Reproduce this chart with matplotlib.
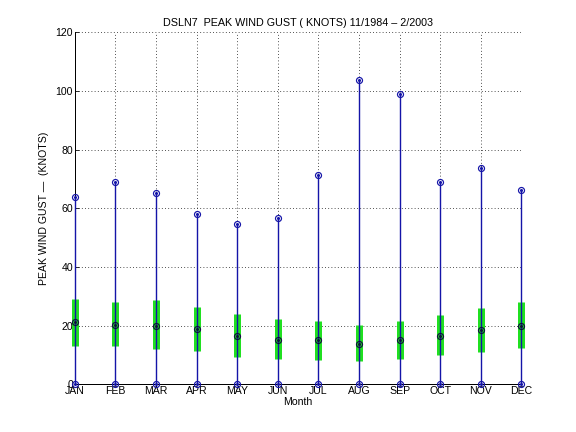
import matplotlib
matplotlib.use("Agg")
import matplotlib.pyplot as plt
import numpy as np

months = ["JAN", "FEB", "MAR", "APR", "MAY", "JUN", "JUL", "AUG", "SEP", "OCT", "NOV", "DEC"]
gust_max = [63.8, 69.0, 65.1, 58.1, 54.6, 56.7, 71.3, 103.7, 99.1, 68.9, 73.9, 66.4]
gust_min = [0, 0, 0, 0, 0, 0, 0, 0, 0, 0, 0, 0]
gust_median = [21.2, 20.3, 19.9, 18.9, 16.4, 15.3, 15.2, 13.8, 15.1, 16.5, 18.6, 20.0]
band_top = [29.2, 28.1, 28.8, 26.4, 24.1, 22.4, 21.5, 20.4, 21.7, 23.8, 26.2, 28.2]
band_bottom = [13.0, 13.0, 12.0, 11.5, 9.5, 8.8, 8.5, 7.9, 8.8, 9.9, 11.2, 12.6]
yticks = [0, 20, 40, 60, 80, 100, 120]

plt.rcParams['font.family'] = ['Liberation Sans', 'DejaVu Sans']

fig = plt.figure(figsize=(8, 6), dpi=72)
ax = fig.add_axes([0.13, 0.11, 0.775, 0.815])
x = np.arange(1, len(months) + 1)

blue = '#1414a8'
ax.vlines(x, band_bottom, band_top, colors='#20e020', linewidth=7, zorder=3, clip_on=False)
ax.vlines(x, gust_min, gust_max, colors=blue, linewidth=1.4, zorder=4, clip_on=False)
for yy, col in [(gust_max, blue), (gust_min, blue), (gust_median, '#101040')]:
    ax.plot(x, yy, 'o', mfc='none', mec=col, ms=6, mew=1.2, zorder=5, clip_on=False)
    ax.plot(x, yy, '.', color=col, ms=4, zorder=6, clip_on=False)

ax.set_xlim(1, 12)
ax.set_ylim(0, 120)
ax.set_xticks(x)
ax.set_xticklabels(months)
ax.set_yticks(yticks)
ax.tick_params(direction='in', length=4, labelsize=10.5, pad=2)
ax.grid(True, linestyle=(0, (1, 3)), color='black', linewidth=0.8)
ax.set_axisbelow(True)
for s in ['top', 'right']:
    ax.spines[s].set_visible(False)
ax.spines['left'].set_linewidth(1.0)
ax.spines['bottom'].set_linewidth(1.0)

ax.set_title("DSLN7  PEAK WIND GUST ( KNOTS) 11/1984 \u2013 2/2003", fontsize=10.8, pad=6)
ax.set_xlabel("Month", fontsize=10.5, labelpad=1)
ax.set_ylabel("PEAK WIND GUST \u2014  (KNOTS)", fontsize=10.5, labelpad=6)

fig.savefig("out.png", dpi=72)
